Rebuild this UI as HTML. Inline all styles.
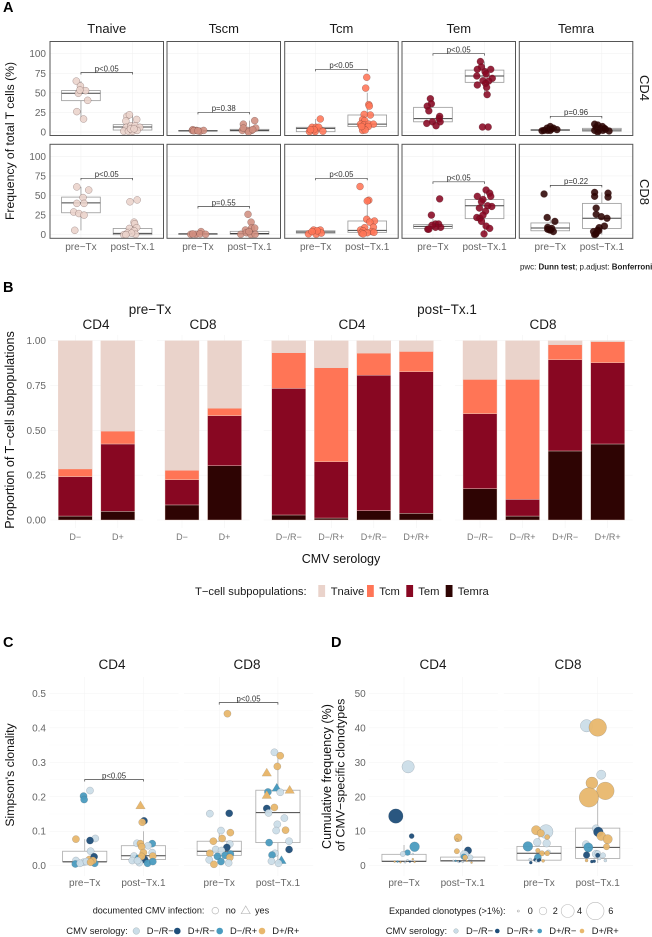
<!DOCTYPE html>
<html lang="en">
<head>
<meta charset="utf-8">
<title>T-cell subpopulations and CMV-specific clonality</title>
<style>
html,body{margin:0;padding:0;background:#fff;}
svg{display:block;}
text{font-family:"Liberation Sans",sans-serif;}
.tag{font-size:14.5px;font-weight:bold;fill:#000;}
.strip{font-size:13.5px;fill:#1a1a1a;text-anchor:middle;}
.title{font-size:12.2px;fill:#111;text-anchor:middle;}
.leg{font-size:9.1px;fill:#1a1a1a;}
.leg3{font-size:9.4px;fill:#1a1a1a;}
.leg2{font-size:11.2px;fill:#1a1a1a;}
</style>
</head>
<body>
<svg id="fig" xmlns="http://www.w3.org/2000/svg" width="652" height="937" viewBox="0 0 652 937">
  <rect width="652" height="937" fill="#fff"/>
  <text class="tag" x="3" y="12">A</text>
  <text class="tag" x="3" y="292">B</text>
  <text class="tag" x="3" y="647">C</text>
  <text class="tag" x="331" y="647">D</text>

  <g id="panelA"></g>
  <text class="title" transform="translate(14,141) rotate(-90)">Frequency of total T cells (%)</text>
  <text class="strip" transform="translate(640,88) rotate(90)" style="font-size:13px">CD4</text>
  <text class="strip" transform="translate(640,192) rotate(90)" style="font-size:13px">CD8</text>
  <text x="520" y="269.5" font-size="7.95" fill="#1a1a1a">pwc: <tspan font-weight="bold">Dunn test</tspan>; p.adjust: <tspan font-weight="bold">Bonferroni</tspan></text>

  <g id="panelB"></g>
  <text class="strip" x="150" y="314">pre−Tx</text>
  <text class="strip" x="447" y="314">post−Tx.1</text>
  <text class="strip" x="96" y="329">CD4</text>
  <text class="strip" x="203" y="329">CD8</text>
  <text class="strip" x="352" y="329">CD4</text>
  <text class="strip" x="543" y="329">CD8</text>
  <text class="title" transform="translate(14,430) rotate(-90)" style="font-size:12.6px">Proportion of T−cell subpopulations</text>
  <text class="title" x="341" y="563" style="font-size:12.5px">CMV serology</text>
  <g>
    <text class="leg2" x="195" y="595">T−cell subpopulations:</text>
    <rect x="318.3" y="585" width="6.8" height="12" fill="#EAD3CB"/>
    <text class="leg2" x="330.7" y="595">Tnaive</text>
    <rect x="367" y="585" width="6.8" height="12" fill="#FF7556"/>
    <text class="leg2" x="379.3" y="595">Tcm</text>
    <rect x="406.3" y="585" width="6.8" height="12" fill="#880722"/>
    <text class="leg2" x="418.3" y="595">Tem</text>
    <rect x="445.7" y="585" width="6.8" height="12" fill="#2E0403"/>
    <text class="leg2" x="457.7" y="595">Temra</text>
  </g>

  <g id="panelC"></g>
  <text class="strip" x="112" y="669">CD4</text>
  <text class="strip" x="247" y="669">CD8</text>
  <text class="title" transform="translate(14,775) rotate(-90)">Simpson's clonality</text>
  <g>
    <text class="leg" x="92.7" y="913.5">documented CMV infection:</text>
    <circle cx="215.3" cy="910.7" r="3.3" fill="#fff" stroke="#bbb" stroke-width=".7"/>
    <text class="leg" x="225.7" y="913.5">no</text>
    <path d="M241.2 913.7 L245.7 906 L250.2 913.7 Z" fill="#fff" stroke="#bbb" stroke-width=".7"/>
    <text class="leg" x="255" y="913.5">yes</text>
  </g>
  <g>
    <text class="leg3" x="66.3" y="934">CMV serology:</text>
    <circle cx="136.3" cy="931" r="3.3" fill="#CBDDE8" stroke="#9aa" stroke-width=".4"/>
    <text class="leg3" x="146.7" y="934">D−/R−</text>
    <circle cx="177.3" cy="931" r="3.3" fill="#1F4E79"/>
    <text class="leg3" x="187.7" y="934">D+/R−</text>
    <circle cx="219.7" cy="931" r="3.3" fill="#4A9BBF"/>
    <text class="leg3" x="230" y="934">D−/R+</text>
    <circle cx="262" cy="931" r="3.3" fill="#E8B76D"/>
    <text class="leg3" x="272.3" y="934">D+/R+</text>
  </g>

  <g id="panelD"></g>
  <text class="strip" x="433" y="669">CD4</text>
  <text class="strip" x="568" y="669">CD8</text>
  <text class="title" transform="translate(331,776.5) rotate(-90)" style="font-size:12.6px">Cumulative frequency (%)</text>
  <text class="title" transform="translate(344.5,775) rotate(-90)" style="font-size:12.4px">of CMV−specific clonotypes</text>
  <g>
    <text class="leg" x="389" y="914">Expanded clonotypes (&gt;1%):</text>
    <circle cx="518.3" cy="911" r="1" fill="#fff" stroke="#aaa" stroke-width=".6"/>
    <text class="leg" x="527.7" y="914">0</text>
    <circle cx="543" cy="911" r="3.8" fill="#fff" stroke="#bbb" stroke-width=".6"/>
    <text class="leg" x="552.7" y="914">2</text>
    <circle cx="567.7" cy="911" r="6.5" fill="#fff" stroke="#bbb" stroke-width=".6"/>
    <text class="leg" x="577" y="914">4</text>
    <circle cx="595.3" cy="911" r="8.7" fill="#fff" stroke="#bbb" stroke-width=".6"/>
    <text class="leg" x="608.3" y="914">6</text>
  </g>
  <g>
    <text class="leg3" x="385.7" y="934">CMV serology:</text>
    <circle cx="456" cy="931" r="2.3" fill="#CBDDE8" stroke="#9aa" stroke-width=".4"/>
    <text class="leg3" x="466" y="934">D−/R−</text>
    <circle cx="497.3" cy="931" r="2.3" fill="#1F4E79"/>
    <text class="leg3" x="506.7" y="934">D−/R+</text>
    <circle cx="539.7" cy="931" r="2.3" fill="#4A9BBF"/>
    <text class="leg3" x="549.3" y="934">D+/R−</text>
    <circle cx="582" cy="931" r="2.3" fill="#E8B76D"/>
    <text class="leg3" x="591.7" y="934">D+/R+</text>
  </g>
</svg>

<script>
// ---------- shared labels ----------
const timepoints = ['pre−Tx', 'post−Tx.1'];
const subsetNames = ['Tnaive', 'Tscm', 'Tcm', 'Tem', 'Temra'];
const subsetColors = ['#EAD3CB', '#D08E80', '#FF7556', '#880722', '#2E0403'];
const freqTicks = [0, 25, 50, 75, 100];

// ---------- Panel A: points are [value, jitter in category units] ----------
const cd4TnaivePre = [[65,-.09],[58.7,-.01],[52.8,.09],[49.4,-.05],[53.6,-.02],[40.4,.13],[26,-.08],[16.6,.05]];
const cd4TnaivePost = [[20,-.11],[22,-.06],[16,.08],[14,-.13],[6,-.12],[8,-.03],[8,.05],[6,.14],[1,-.17],[1,-.08],[1,0],[2,.09],[4,-.04],[4,.03]];
const cd4TscmPre = [[2,-.11],[2,-.03],[1,.04],[2,.11],[3,-.1],[1.5,-.08],[1.5,0]];
const cd4TscmPost = [[14.5,.1],[10,-.12],[5,.12],[2,.04],[2,-.04],[2,-.14],[5,-.12],[0,-.02],[3,.06]];
const cd4TcmPre = [[16.6,.09],[6,-.07],[6,.01],[6,.06],[.5,-.12],[.5,-.01],[1,.14],[3,-.03],[3,-.1]];
const cd4TcmPost = [[69.8,-.01],[56,-.03],[35,.03],[33,.04],[21.7,.06],[22.5,-.06],[16,-.09],[14.5,-.05],[10,-.13],[9,-.06],[10,.03],[10,.12],[7,.02],[2,-.09],[2.5,-.04],[7,-.11]];
const cd4TemPre = [[42.5,-.05],[36,-.03],[33,-.11],[27,-.08],[20,.13],[17,.12],[13,.14],[13,-.01],[11,-.12],[8,.06]];
const cd4TemPost = [[90,-.08],[83,-.06],[80,-.14],[77,.01],[80,.12],[74,.03],[71.5,-.15],[68.5,.15],[65.5,-.03],[65,.08],[60,-.14],[62,.02],[57,.04],[47.7,.05],[6.4,-.04],[6.4,.07]];
const cd4TemraPre = [[7,0],[5,-.06],[5,.06],[2,-.12],[1.5,-.16],[2,0],[3,.13],[2,-.05],[4,.03]];
const cd4TemraPost = [[10,-.14],[9,-.08],[7,.01],[3.5,.07],[1.3,.14],[2,-.06],[2,.02],[2,-.14],[6,-.11],[4.7,-.03],[4.7,.05],[0,-.08]];
const cd8TnaivePre = [[61,-.08],[57,.15],[47.4,.04],[40,-.08],[40,.06],[29,-.14],[27,-.04],[25,.06],[5.6,-.12]];
const cd8TnaivePost = [[44.4,.09],[42,-.05],[16,.03],[14,.04],[8,-.06],[9,.08],[5,.03],[2,-.1],[.5,.06],[0,-.17],[2,-.02],[0,-.13]];
const cd8TscmPre = [[4,.06],[.5,-.14],[.5,-.04],[1,.04],[.5,.15],[1,-.1]];
const cd8TscmPost = [[26,-.03],[16,.03],[8.5,.04],[6,-.08],[8.5,.1],[.5,-.17],[2.5,-.06],[0,.03],[.5,.11],[4,-.01]];
const cd8TcmPre = [[6,-.04],[6,.09],[1,-.14],[.5,.01],[2,.11],[5,.03],[4,-.07]];
const cd8TcmPost = [[61.5,-.14],[44,.03],[43,0],[19.7,-.01],[17.5,.14],[16,.05],[9,-.05],[9.5,.12],[6,-.13],[5,-.08],[4,.08],[3,.13],[2,-.11],[2.5,0],[1,-.08]];
const cd8TemPre = [[45.7,.13],[25,-.03],[13.7,.05],[13.7,.11],[9.4,.15],[9.4,.05],[12,-.02],[7,-.1],[7,-.08]];
const cd8TemPost = [[57,.03],[53,.1],[49,-.14],[45,-.03],[49,.12],[42,-.06],[36,.14],[37,.06],[34,-.1],[30,.02],[22,-.15],[21,-.09],[25,-.03],[17,-.06],[11,.03],[8,.1],[1,-.01]];
const cd8TemraPre = [[52,-.12],[22,-.06],[17,.09],[9.4,-.05],[8,.03],[6,-.01],[4,.06],[6,.01],[7,-.05]];
const cd8TemraPost = [[54,-.14],[53,.12],[49,-.14],[48,.12],[34,-.11],[26,-.11],[23,-.01],[21,.1],[11,.05],[9,-.05],[4,-.16],[5,-.06],[.5,-.12],[0,-.14],[6,-.08],[2,-.11]];

// five-number summaries: [low whisker, q1, median, q3, high whisker]
const cd4BoxPre = [[17,40,49.4,53,65],[.5,1.3,1.5,2,3],[.4,.4,4.7,6,16.6],[8,13,17,31.5,42.5],[1.5,2,2.5,3,7]];
const cd4BoxPost = [[0,2.5,6.4,9.4,22],[0,1.3,2,3.4,14.5],[2,7,10,21.7,50],[47,63.4,71.5,79,90],[0,1,2.5,4.7,10]];
const cd8BoxPre = [[5.6,28,40.6,48,61],[.5,.5,1,1.3,4],[1,2,3.4,5,6],[7,8,10.7,13,20],[4,5,8.5,15,22]];
const cd8BoxPost = [[0,0,1.7,8,16],[0,.5,1.5,4.3,9],[1,3,5.5,17.5,44],[1,20.5,37,45,57],[0,8,21,40,54]];
const cd4BracketValues = [76, 25, 80, 100, 20];
const cd8BracketValues = [72, 36, 72, 67.5, 63];
const cd4PLabels = ['p<0.05', 'p=0.38', 'p<0.05', 'p<0.05', 'p=0.96'];
const cd8PLabels = ['p<0.05', 'p=0.55', 'p<0.05', 'p<0.05', 'p=0.22'];
const cd4PointsPre = [cd4TnaivePre, cd4TscmPre, cd4TcmPre, cd4TemPre, cd4TemraPre];
const cd4PointsPost = [cd4TnaivePost, cd4TscmPost, cd4TcmPost, cd4TemPost, cd4TemraPost];
const cd8PointsPre = [cd8TnaivePre, cd8TscmPre, cd8TcmPre, cd8TemPre, cd8TemraPre];
const cd8PointsPost = [cd8TnaivePost, cd8TscmPost, cd8TcmPost, cd8TemPost, cd8TemraPost];

// ---------- Panel B: proportions per bar ----------
const barCategories = ['D−','D+','D−','D+','D−/R−','D−/R+','D+/R−','D+/R+','D−/R−','D−/R+','D+/R−','D+/R+'];
const barTemra  = [.022,.048,.084,.303,.028,.011,.052,.037,.175,.022,.385,.424];
const barTem    = [.220,.376,.141,.279,.706,.314,.755,.790,.418,.093,.509,.453];
const barTcm    = [.043,.072,.052,.041,.199,.524,.124,.113,.191,.669,.084,.117];
const barTnaive = [.715,.504,.723,.377,.067,.151,.069,.060,.216,.216,.022,.006];
const proportionTicks = ['0.00', '0.25', '0.50', '0.75', '1.00'];

// ---------- Panel C: [value, jitter, serology, CMV infection] ----------
const clonalityCd4Pre = [[.218,.09,'L',0],[.202,-.02,'B',0],[.192,-.01,'B',0],[.077,-.15,'T',0],[.079,.18,'L',0],[.073,.09,'K',0],[.042,.10,'L',0],[.015,-.15,'L',0],[.01,-.02,'L',0],[.018,.08,'T',0],[.005,-.16,'B',0],[.007,.17,'B',0],[.007,-.08,'L',0],[.012,.03,'L',0],[.026,.16,'K',0],[.015,.14,'T',0],[.01,.10,'T',0]];
const clonalityCd4Post = [[.175,-.05,'T',1],[.13,.01,'K',0],[.126,-.02,'T',0],[.065,-.11,'L',0],[.064,-.05,'T',0],[.064,.15,'B',0],[.058,.08,'L',0],[.055,-.03,'T',0],[.038,0,'T',0],[.038,.15,'L',0],[.028,-.16,'L',0],[.028,.16,'T',0],[.02,-.11,'B',1],[.015,-.19,'L',0],[.018,.02,'K',0],[.009,-.07,'L',0],[.007,.07,'B',0],[.012,.16,'B',0],[.027,-.03,'T',0],[.015,-.1,'L',0]];
const clonalityCd8Pre = [[.441,.14,'T',0],[.151,-.16,'L',0],[.152,.17,'K',0],[.102,.03,'L',0],[.096,.19,'T',0],[.071,-.10,'T',0],[.079,.05,'T',0],[.063,.18,'L',0],[.053,.13,'K',0],[.047,-.06,'L',0],[.044,.04,'L',0],[.036,-.16,'T',0],[.034,.19,'B',0],[.027,-.03,'B',0],[.03,.1,'B',0],[.024,.18,'T',0],[.017,-.17,'L',0],[.012,.03,'B',0],[.004,-.09,'T',0],[.008,.16,'L',0]];
const clonalityCd8Post = [[.329,-.06,'L',0],[.319,.04,'T',0],[.288,-.01,'T',0],[.27,-.19,'T',1],[.226,-.02,'B',1],[.22,.2,'T',1],[.214,-.17,'B',0],[.213,.04,'L',0],[.205,-.19,'T',1],[.166,-.19,'K',0],[.169,-.06,'T',0],[.153,-.16,'L',0],[.138,.11,'L',0],[.12,-.01,'L',0],[.102,-.03,'L',0],[.103,.13,'T',0],[.067,-.15,'B',0],[.071,.19,'L',0],[.047,.19,'K',0],[.036,-.05,'L',0],[.031,-.1,'B',0],[.016,.06,'B',1],[.013,-.11,'L',0],[.007,.01,'L',0]];
const clonalityBoxes = [[.005,.012,.011,.042,.077],[.007,.018,.029,.058,.1],[.004,.03,.042,.071,.102],[.007,.067,.154,.219,.329]];
const clonalityTicks = [0, .1, .2, .3, .4, .5];

// ---------- Panel D: [value, jitter, serology, expanded clonotypes] ----------
const cumFreqCd4Pre = [[28.7,.07,'L',4],[14.4,-.14,'K',4.8],[8.6,.13,'K',1.2],[5.5,.18,'B',3],[3.8,.06,'B',1.5],[3.4,-.02,'L',1.3],[3.4,.15,'L',0],[1.2,-.16,'T',0],[1,-.06,'T',0],[1.9,.15,'T',0],[1.2,.10,'K',0],[1,.02,'L',0],[1.2,-.11,'B',0],[1.1,.18,'T',0],[1.6,.06,'L',0]];
const cumFreqCd4Post = [[8.1,-.08,'T',2.3],[7.4,-.10,'T',.4],[4.4,.09,'K',2.1],[4.2,-.1,'T',1.3],[3.1,.03,'L',2.7],[2.6,.02,'B',1.5],[2.4,.13,'L',1.3],[2.4,.04,'T',1.2],[1.4,-.16,'L',0],[1.4,-.12,'B',0],[1.1,-.07,'L',0],[1.3,-.05,'K',0],[1.4,.07,'T',0],[.9,.15,'T',0],[1.1,0,'L',0]];
const cumFreqCd8Pre = [[9.9,.12,'L',4.6],[10.3,-.05,'T',2.8],[9.4,.03,'T',2.1],[8.3,.14,'T',1.2],[6.8,-.03,'L',2.2],[6.5,.13,'L',2.2],[5.6,-.19,'B',3],[4.4,-.02,'T',1],[4,.16,'L',.8],[3.6,.05,'T',1.3],[3.6,.14,'T',1.2],[2.4,-.02,'B',2],[1.7,.01,'K',.4],[1.7,-.07,'K',.4],[.9,-.14,'K',.4],[1.8,-.15,'L',.4],[1.4,.07,'T',.4],[1.4,-.04,'L',.4],[1.5,-.01,'K',.4]];
const cumFreqCd8Post = [[40.6,-.19,'L',4],[40.1,0,'T',6],[26.4,.06,'L',2.8],[24,-.1,'T',3.8],[21.7,.13,'T',6],[19.8,-.15,'T',6.7],[10.8,-.03,'L',2.1],[9.8,.01,'K',3],[8.6,.06,'T',2.7],[7.7,.17,'T',2.8],[6.2,-.2,'L',2.1],[5.3,-.16,'B',2.8],[5.5,.15,'T',1.7],[3.4,-.03,'L',2.2],[3.6,0,'L',1.5],[3.1,-.19,'K',1.8],[3,0,'K',1],[3,.09,'L',1.3],[1.5,-.19,'T',.4],[1.2,-.1,'K',.4],[1.3,-.06,'K',.4],[1.5,.13,'L',.4],[2.1,.03,'L',.4]];
const cumFreqBoxes = [[.9,1.2,1.3,3.3,6],[.9,1.3,1.45,2.5,4.4],[.9,1.6,3.6,5.6,10],[.8,2.1,5.3,10.9,22]];
const cumFreqTicks = [0, 10, 20, 30, 40, 50];
const clonalityBrackets = [.25, .473];

// ---------- drawing helpers ----------
const NS = 'http://www.w3.org/2000/svg';
const serologyColors = {L: '#CBDDE8', K: '#1F4E79', B: '#4A9BBF', T: '#E8B76D'};

function make(parent, tag, attrs) {
  const el = document.createElementNS(NS, tag);
  for (const k in attrs) el.setAttribute(k, attrs[k]);
  parent.appendChild(el);
  return el;
}
function gridLine(parent, x1, y1, x2, y2, color) {
  const el = make(parent, 'line', {x1: x1, y1: y1, x2: x2, y2: y2, stroke: color, 'stroke-width': .5});
  
  
}
function label(parent, x, y, str, size, color, anchor) {
  const el = make(parent, 'text', {x: x, y: y, 'font-size': size, fill: color, 'text-anchor': anchor});
  el.textContent = str;
  
  
}
function drawBox(parent, cx, halfW, stats, yFn, stroke) {
  const g = make(parent, 'g', {});
  
  
  make(g, 'line', {x1: cx, x2: cx, y1: yFn(stats[0]), y2: yFn(stats[1]), stroke: stroke, 'stroke-width': .8});
  make(g, 'line', {x1: cx, x2: cx, y1: yFn(stats[3]), y2: yFn(stats[4]), stroke: stroke, 'stroke-width': .8});
  make(g, 'rect', {x: cx - halfW, y: yFn(stats[3]), width: 2 * halfW, height: Math.max(.1, yFn(stats[1]) - yFn(stats[3])), fill: '#fff', stroke: stroke, 'stroke-width': .8});
  make(g, 'line', {x1: cx - halfW, x2: cx + halfW, y1: yFn(stats[2]), y2: yFn(stats[2]), stroke: '#444', 'stroke-width': 1});
}
function drawBracket(parent, x1, x2, y, str) {
  const g = make(parent, 'g', {});
  
  
  make(g, 'path', {d: 'M' + x1 + ' ' + (y + 2) + 'V' + y + 'H' + x2 + 'V' + (y + 2), fill: 'none', stroke: '#444', 'stroke-width': .7});
  const t = make(g, 'text', {x: (x1 + x2) / 2, y: y - 1.2, 'font-size': 7.8, fill: '#333', 'text-anchor': 'middle'});
  t.textContent = str;
}
function drawCirclePoint(parent, x, y, r, fill, stroke, strokeW, opacity) {
  const el = make(parent, 'circle', {cx: x, cy: y, r: r, fill: fill, stroke: stroke, 'stroke-width': strokeW, 'fill-opacity': opacity});
  
  
}
function drawTrianglePoint(parent, x, y, fill) {
  const s = 4.8;
  const el = make(parent, 'path', {d: 'M' + (x - s) + ' ' + (y + s * .72) + 'L' + x + ' ' + (y - s * .95) + 'L' + (x + s) + ' ' + (y + s * .72) + 'Z', fill: fill, stroke: 'rgba(90,90,90,.3)', 'stroke-width': .4});
  
  
}

// ---------- Panel A ----------
(function () {
  const root = document.getElementById('panelA');
  const lefts = [50, 167, 284.7, 402, 519.3];
  const width = 113.5;
  const rows = [
    {top: 41.5, bottom: 135.5, base: 132, pre: cd4PointsPre, post: cd4PointsPost, boxPre: cd4BoxPre, boxPost: cd4BoxPost, br: cd4BracketValues, pl: cd4PLabels},
    {top: 144.3, bottom: 238.3, base: 234.7, pre: cd8PointsPre, post: cd8PointsPost, boxPre: cd8BoxPre, boxPost: cd8BoxPost, br: cd8BracketValues, pl: cd8PLabels}
  ];
  const perUnit = .7833;
  subsetNames.forEach(function (name, c) {
    const st = make(root, 'text', {x: lefts[c] + width / 2, y: 33, 'font-size': 13, fill: '#1a1a1a', 'text-anchor': 'middle'});
    st.textContent = name;
    
    
  });
  rows.forEach(function (row) {
    const yFn = function (v) { return row.base - v * perUnit; };
    subsetNames.forEach(function (name, c) {
      const left = lefts[c];
      const unit = width / 2.2;
      const xFn = function (pos) { return left + (pos + .6) * unit; };
      freqTicks.forEach(function (t) {
        gridLine(root, left, yFn(t), left + width, yFn(t), '#efefef');
      });
      [0, 1].forEach(function (p) {
        gridLine(root, xFn(p), row.top, xFn(p), row.bottom, '#efefef');
      });
      drawBox(root, xFn(0), unit * .375, row.boxPre[c], yFn, '#999');
      drawBox(root, xFn(1), unit * .375, row.boxPost[c], yFn, '#999');
      row.pre[c].forEach(function (d) {
        drawCirclePoint(root, xFn(0 + d[1]), yFn(d[0]), 3.5, subsetColors[c], 'rgba(60,30,30,.45)', .45, .88);
      });
      row.post[c].forEach(function (d) {
        drawCirclePoint(root, xFn(1 + d[1]), yFn(d[0]), 3.5, subsetColors[c], 'rgba(60,30,30,.45)', .45, .88);
      });
      drawBracket(root, xFn(0), xFn(1), yFn(row.br[c]), row.pl[c]);
      const frame = make(root, 'rect', {x: left, y: row.top, width: width, height: row.bottom - row.top, fill: 'none', stroke: '#555', 'stroke-width': 1});
      
      
      if (row.base > 200) {
        timepoints.forEach(function (tp, i) {
          label(root, xFn(i), 250, tp, 10, '#666', 'middle');
        });
      }
    });
    freqTicks.forEach(function (t) {
      label(root, 46, yFn(t) + 3.5, String(t), 10, '#666', 'end');
    });
  });
})();

// ---------- Panel B ----------
(function () {
  const root = document.getElementById('panelB');
  const y0 = 520, h = 179.3;
  const yFn = function (v) { return y0 - v * h; };
  const pitch = 42.55, barW = 34;
  const facets = [
    {start: 75.3, first: 0, n: 2},
    {start: 182, first: 2, n: 2},
    {start: 288.7, first: 4, n: 4},
    {start: 480, first: 8, n: 4}
  ];
  const layers = [barTemra, barTem, barTcm, barTnaive];
  const colors = ['#2E0403', '#880722', '#FF7556', '#EAD3CB'];
  const layerNames = ['temra', 'tem', 'tcm', 'tnaive'];
  facets.forEach(function (f) {
    const l = f.start - 25, r = f.start + (f.n - 1) * pitch + 25;
    proportionTicks.forEach(function (t) {
      gridLine(root, l, yFn(+t), r, yFn(+t), '#f2f2f2');
    });
    for (let i = 0; i < f.n; i++) {
      const idx = f.first + i;
      const cx = f.start + i * pitch;
      gridLine(root, cx, 335, cx, 528, '#f2f2f2');
      let acc = 0;
      layers.forEach(function (arr, li) {
        const v = arr[idx];
        const rect = make(root, 'rect', {x: cx - barW / 2, y: yFn(acc + v), width: barW, height: Math.max(0, v * h), fill: colors[li], stroke: '#EAD3CB', 'stroke-width': .4});
        
        
        acc += v;
      });
      label(root, cx, 540, barCategories[idx], 9, '#777', 'middle');
    }
  });
  proportionTicks.forEach(function (t) {
    label(root, 46, yFn(+t) + 3.5, t, 10, '#666', 'end');
  });
})();

// ---------- Panels C and D ----------
function drawScatterPanel(root, cfg) {
  const yFn = function (v) { return cfg.base - v * cfg.scale; };
  const unit = 58.7;
  cfg.lefts.forEach(function (left) {
    const w = 2.2 * unit;
    for (let t = 0; t < 11; t++) {
      gridLine(root, left, yFn(t * cfg.minor), left + w, yFn(t * cfg.minor), t % 2 ? '#fafafa' : '#f3f3f3');
    }
    gridLine(root, left + .6 * unit, 677, left + .6 * unit, 876, '#f3f3f3');
    gridLine(root, left + 1.6 * unit, 677, left + 1.6 * unit, 876, '#f3f3f3');
  });
  cfg.series.forEach(function (pts, i) {
    const facet = i < 2 ? 0 : 1;
    const pos = i % 2;
    const xFn = function (p) { return cfg.lefts[facet] + (p + .6) * unit; };
    drawBox(root, xFn(pos), 22.1, cfg.boxes[i], yFn, '#aaa');
    pts.forEach(function (d) {
      const x = xFn(pos + d[1]);
      const y = yFn(d[0]);
      const fill = serologyColors[d[2]];
      if (cfg.kind === 'C' && d[3]) {
        drawTrianglePoint(root, x, y, fill);
      } else {
        const r = cfg.kind === 'C' ? 3.6 : 1 + 1.3 * d[3];
        drawCirclePoint(root, x, y, r, fill, 'rgba(70,80,90,.4)', .4, .95);
      }
    });
    label(root, xFn(pos), 886, timepoints[pos], 10, '#666', 'middle');
  });
  cfg.ticks.forEach(function (t) {
    label(root, cfg.tickX, yFn(t) + 3.5, cfg.fmt(t), 10, '#666', 'end');
  });
  if (cfg.brackets) {
    cfg.brackets.forEach(function (b, f) {
      drawBracket(root, cfg.lefts[f] + .6 * unit, cfg.lefts[f] + 1.6 * unit, yFn(b), 'p<0.05');
    });
  }
}
drawScatterPanel(document.getElementById('panelC'), {
  kind: 'C', base: 865.7, scale: 344.7, minor: .05, lefts: [49.5, 184], tickX: 46,
  series: [clonalityCd4Pre, clonalityCd4Post, clonalityCd8Pre, clonalityCd8Post],
  boxes: clonalityBoxes, ticks: clonalityTicks,
  fmt: function (t) { return t.toFixed(1); }, brackets: clonalityBrackets
});
drawScatterPanel(document.getElementById('panelD'), {
  kind: 'D', base: 865.7, scale: 3.447, minor: 5, lefts: [368.8, 503.8], tickX: 365.7,
  series: [cumFreqCd4Pre, cumFreqCd4Post, cumFreqCd8Pre, cumFreqCd8Post],
  boxes: cumFreqBoxes, ticks: cumFreqTicks,
  fmt: function (t) { return String(t); }
});
</script>
</body>
</html>
